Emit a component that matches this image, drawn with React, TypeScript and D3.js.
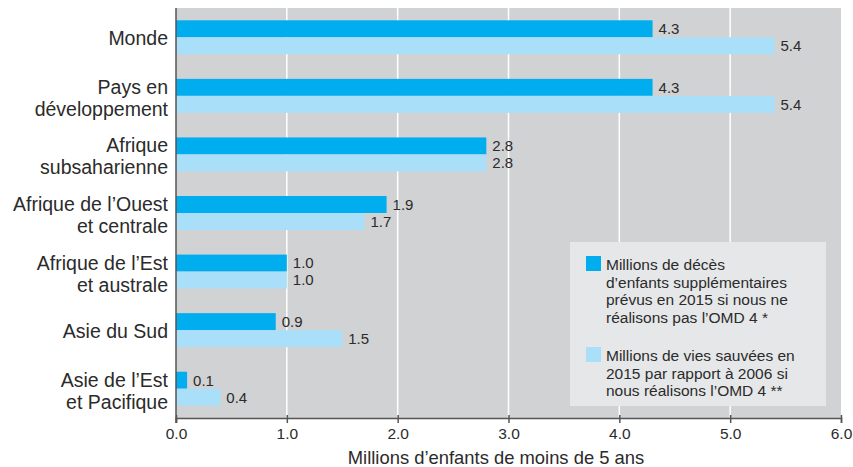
import { useEffect, useRef } from "react";
import * as d3 from "d3";

const categories = [
  "Monde",
  "Pays en\ndéveloppement",
  "Afrique\nsubsaharienne",
  "Afrique de l’Ouest\net centrale",
  "Afrique de l’Est\net australe",
  "Asie du Sud",
  "Asie de l’Est\net Pacifique",
];
const extraDeaths = [4.3, 4.3, 2.8, 1.9, 1.0, 0.9, 0.1];
const livesSaved = [5.4, 5.4, 2.8, 1.7, 1.0, 1.5, 0.4];
const tickValues = [0, 1, 2, 3, 4, 5, 6];
const seriesKeys = ["deaths", "saved"];
const legendLabels = [
  "Millions de décès\nd’enfants supplémentaires\nprévus en 2015 si nous ne\nréalisons pas l’OMD 4 *",
  "Millions de vies sauvées en\n2015 par rapport à 2006 si\nnous réalisons l’OMD 4 **",
];
const axisTitle = "Millions d’enfants de moins de 5 ans";

export default function App() {
  const ref = useRef<SVGSVGElement>(null);

  useEffect(() => {
    document.body.style.margin = "0";
    const width = 853;
    const height = 467;
    const left = 176, right = 841, top = 8, bottom = 418;
    const colors = ["#00adee", "#a9dff8"];
    const textColor = "#2b2b2b";
    const font = "'Liberation Sans', Arial, sans-serif";

    const svg = d3.select(ref.current);
    svg.selectAll("*").remove();
    svg.attr("width", width).attr("height", height);

    const x = d3.scaleLinear().domain([0, 6]).range([left, right]);
    const y = d3.scaleBand().domain(categories).range([top, bottom])
      .paddingInner(0.42).paddingOuter(0.21);
    const ySub = d3.scaleBand().domain(seriesKeys).range([0, y.bandwidth()]);

    // plot background
    svg.append("rect")
      .attr("x", left).attr("y", top)
      .attr("width", right - left).attr("height", bottom - top)
      .attr("fill", "#d1d2d4");

    // gridlines
    svg.append("g")
      .selectAll("line")
      .data(tickValues.filter(d => d > 0 && d < 6))
      .join("line")
      .attr("x1", d => x(d)).attr("x2", d => x(d))
      .attr("y1", top).attr("y2", bottom)
      .attr("stroke", "#ffffff").attr("stroke-width", 1.5);

    // legend box
    const lg = svg.append("g").attr("font-family", font).attr("font-size", 15.5).attr("fill", textColor);
    lg.append("rect")
      .attr("x", 570).attr("y", 242).attr("width", 256).attr("height", 164)
      .attr("fill", "#e6e7e8");
    const legendTops = [256, 347];
    legendLabels.forEach((label, i) => {
      lg.append("rect")
        .attr("x", 586).attr("y", legendTops[i]).attr("width", 15).attr("height", 15)
        .attr("fill", colors[i]);
      lg.append("text")
        .attr("x", 606).attr("y", legendTops[i] + 14)
        .selectAll("tspan")
        .data(label.split("\n"))
        .join("tspan")
        .attr("x", 606)
        .attr("dy", (_, j) => j ? 17.5 : 0)
        .text(d => d);
    });

    // bars
    const series = [extraDeaths, livesSaved];
    const groups = svg.append("g")
      .selectAll("g")
      .data(categories)
      .join("g")
      .attr("transform", d => `translate(0,${y(d)})`);

    groups.selectAll("rect")
      .data((_, i) => seriesKeys.map((k, s) => ({ k, s, v: series[s][i] })))
      .join("rect")
      .attr("x", x(0))
      .attr("y", d => ySub(d.k)!)
      .attr("width", d => x(d.v) - x(0))
      .attr("height", ySub.bandwidth())
      .attr("fill", d => colors[d.s]);

    groups.selectAll("text")
      .data((_, i) => seriesKeys.map((k, s) => ({ k, s, v: series[s][i] })))
      .join("text")
      .attr("x", d => x(d.v) + 6)
      .attr("y", d => ySub(d.k)! + ySub.bandwidth() / 2)
      .attr("dy", "0.36em")
      .attr("font-family", font)
      .attr("font-size", 15)
      .attr("fill", textColor)
      .text(d => d.v.toFixed(1));

    // category labels
    svg.append("g")
      .attr("font-family", font)
      .attr("font-size", 19.5)
      .attr("fill", textColor)
      .attr("text-anchor", "end")
      .selectAll("text")
      .data(categories)
      .join("text")
      .attr("transform", d => `translate(168,${y(d)! + y.bandwidth() / 2})`)
      .selectAll("tspan")
      .data(d => {
        const lines = d.split("\n");
        return lines.map((t, i) => ({ t, i, n: lines.length }));
      })
      .join("tspan")
      .attr("x", 0)
      .attr("y", d => d.n === 1 ? 8 : -2 + d.i * 22)
      .text(d => d.t);

    // x axis
    const axis = svg.append("g")
      .attr("transform", `translate(0,${bottom})`)
      .call(d3.axisBottom(x).tickValues(tickValues).tickFormat(d3.format(".1f")).tickSize(5).tickPadding(5));
    axis.select(".domain").attr("stroke", "#555").attr("stroke-width", 1.5);
    axis.selectAll(".tick line").attr("stroke", "#555").attr("stroke-width", 1.5).attr("y1", -3);
    axis.selectAll(".tick text")
      .attr("font-family", font)
      .attr("font-size", 15.5)
      .attr("fill", textColor);

    // left axis line
    svg.append("line")
      .attr("x1", left).attr("x2", left)
      .attr("y1", top).attr("y2", bottom + 5)
      .attr("stroke", "#555").attr("stroke-width", 1.5);

    svg.append("text")
      .attr("x", 496).attr("y", 464)
      .attr("text-anchor", "middle")
      .attr("font-family", font)
      .attr("font-size", 18.4)
      .attr("fill", textColor)
      .text(axisTitle);
  }, []);

  return <svg ref={ref} style={{ display: "block" }} />;
}
